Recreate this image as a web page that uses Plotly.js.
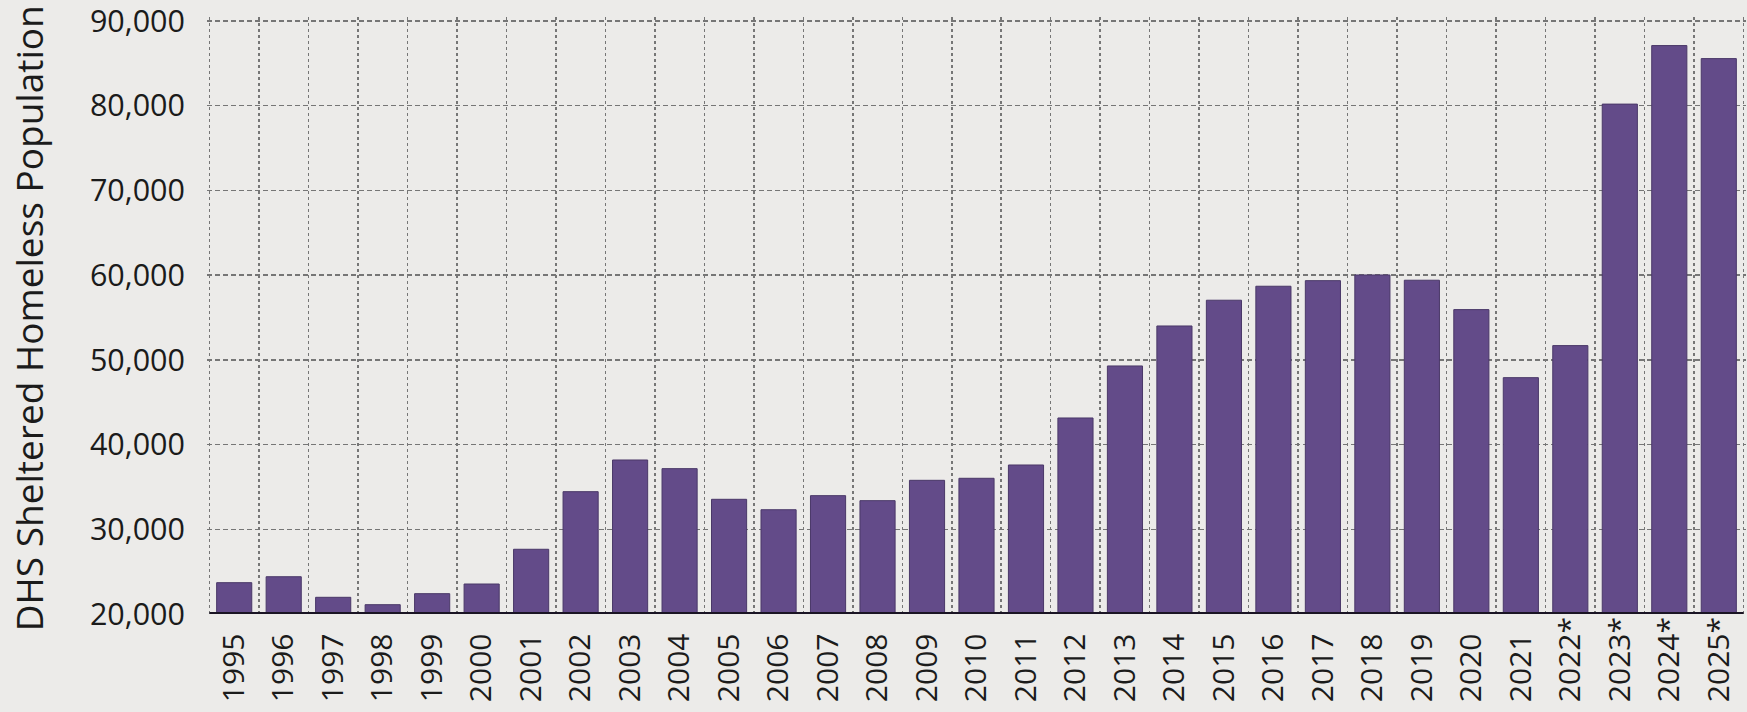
<!DOCTYPE html>
<html>
<head>
<meta charset="utf-8">
<script src="https://cdn.plot.ly/plotly-3.0.1.min.js"></script>
<style>
  html, body { margin: 0; padding: 0; background: #ecebe9; }
  #chart { width: 1747px; height: 712px; }
</style>
</head>
<body>
<div id="chart"></div>
<script>
const years = ["1995","1996","1997","1998","1999","2000","2001","2002","2003","2004",
  "2005","2006","2007","2008","2009","2010","2011","2012","2013","2014",
  "2015","2016","2017","2018","2019","2020","2021","2022*","2023*","2024*","2025*"];
const population = [23700, 24400, 21970, 21100, 22400, 23540, 27640, 34440, 38180, 37160,
  33540, 32310, 33970, 33380, 35780, 36020, 37590, 43140, 49280, 54000,
  57040, 58690, 59350, 60020, 59400, 55930, 47900, 51680, 80190, 87100, 85560];
const yTicks = [20000, 30000, 40000, 50000, 60000, 70000, 80000, 90000];
const yTickLabels = ["20,000","30,000","40,000","50,000","60,000","70,000","80,000","90,000"];
const yTitle = "DHS Sheltered Homeless Population";

const hidden = "<span style='color:rgba(0,0,0,0)'>";
const tickText = years.map(y => y.endsWith("*") ? y : y + hidden + "*</span>");

const trace = {
  type: "bar",
  x: years,
  y: population,
  marker: { color: "#634b89", line: { color: "#4a3868", width: 1 } },
  hoverinfo: "x+y"
};

const layout = {
  width: 1747, height: 712,
  margin: { l: 206.5, r: 0.5, t: 17, b: 98 },
  paper_bgcolor: "#ecebe9",
  plot_bgcolor: "rgba(0,0,0,0)",
  bargap: 0.29,
  showlegend: false,
  font: { family: "Open Sans, Noto Sans, sans-serif", color: "#1b1b1b" },
  xaxis: {
    type: "category",
    range: [-0.55, 30.55],
    tickson: "boundaries",
    ticks: "",
    showgrid: true,
    gridcolor: "#767676",
    gridwidth: 1.5,
    griddash: "3px,3px",
    showline: false,
    tickangle: -90,
    tickmode: "array",
    tickvals: years,
    ticktext: tickText,
    tickfont: { size: 30, color: "#1b1b1b" },
    ticklabelstandoff: -4,
    ticklabeloverflow: "allow",
    automargin: false
  },
  yaxis: {
    range: [20000, 90472],
    tickmode: "array",
    tickvals: yTicks,
    ticktext: yTickLabels,
    tickfont: { size: 30.5, color: "#1b1b1b" },
    ticklabelstandoff: 21,
    ticklabeloverflow: "allow",
    showgrid: true,
    gridcolor: "#767676",
    gridwidth: 1.5,
    griddash: "5px,3px",
    zeroline: false,
    showline: false,
    title: { text: yTitle + "<span style='color:rgba(0,0,0,0);font-size:22px'>i</span>", font: { size: 37, color: "#1b1b1b" }, standoff: 34 },
    automargin: false
  },
  shapes: [
    { type: "line", xref: "x", yref: "y", x0: -0.5, x1: 30.5, y0: 20000, y1: 20000,
      line: { color: "#1a1424", width: 4 } }
  ]
};

Plotly.newPlot("chart", [trace], layout, { displayModeBar: false, staticPlot: true });
</script>
</body>
</html>
